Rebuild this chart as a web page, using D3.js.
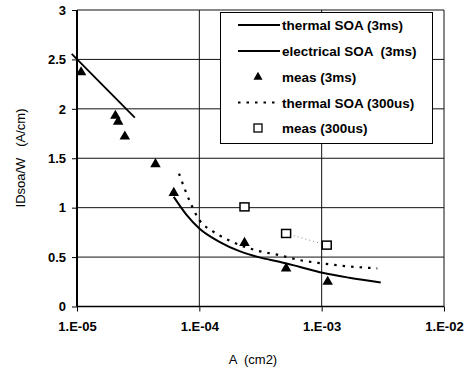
<!DOCTYPE html>
<html><head><meta charset="utf-8">
<script src="https://cdn.jsdelivr.net/npm/d3@7"></script>
<style>
html,body{margin:0;padding:0;background:#fff;}
svg{display:block;}
text{font-family:"Liberation Sans",Arial,sans-serif;fill:#000;}
</style></head>
<body>
<svg id="chart" width="468" height="369"></svg>
<script>
// ---- data ----
const xTicks = [1e-5, 1e-4, 1e-3, 1e-2];
const xTickLabels = ["1.E-05", "1.E-04", "1.E-03", "1.E-02"];
const yTicks = [0, 0.5, 1, 1.5, 2, 2.5, 3];
const yTickLabels = ["0", "0.5", "1", "1.5", "2", "2.5", "3"];

const thermal3msA = [6.18e-5, 7.83e-5, 1.0e-4, 1.46e-4, 2.13e-4, 3.10e-4, 4.51e-4, 6.56e-4, 1.016e-3, 1.68e-3, 3.04e-3];
const thermal3msV = [1.109, 0.93, 0.79, 0.655, 0.56, 0.497, 0.453, 0.402, 0.341, 0.291, 0.244];

const electrical3msA = [9.05e-6, 2.97e-5];
const electrical3msV = [2.556, 1.911];

const meas3msA = [1.08e-5, 2.06e-5, 2.17e-5, 2.46e-5, 4.38e-5, 6.18e-5, 2.34e-4, 5.12e-4, 1.12e-3];
const meas3msV = [2.37, 1.93, 1.87, 1.72, 1.44, 1.15, 0.644, 0.386, 0.25];

const thermal300usA = [6.82e-5, 7.59e-5, 8.45e-5, 1.0e-4, 1.29e-4, 1.71e-4, 3.0e-4, 4.51e-4, 6.56e-4, 1.016e-3, 1.48e-3, 2.85e-3];
const thermal300usV = [1.345, 1.19, 1.05, 0.875, 0.76, 0.675, 0.564, 0.52, 0.47, 0.436, 0.412, 0.386];

const meas300usA = [2.34e-4, 5.12e-4, 1.1e-3];
const meas300usV = [1.008, 0.739, 0.621];

const legendLabels = ["thermal SOA (3ms)", "electrical SOA  (3ms)", "meas (3ms)", "thermal SOA (300us)", "meas (300us)"];

// ---- layout ----
const L = 77, R = 444, T = 10, B = 306.5;
const svg = d3.select("#chart");
const x = d3.scaleLog().domain([1e-5, 1e-2]).range([L, R]);
const y = d3.scaleLinear().domain([0, 3]).range([B, T]);
const zip = (a, b) => a.map((d, i) => [d, b[i]]);

// gridlines
svg.append("g").selectAll("line.h").data(yTicks.slice(1)).join("line")
  .attr("x1", L).attr("x2", R).attr("y1", d => y(d)).attr("y2", d => y(d))
  .attr("stroke", "#111").attr("stroke-width", 1);
svg.append("g").selectAll("line.v").data(xTicks.slice(1)).join("line")
  .attr("x1", d => x(d)).attr("x2", d => x(d)).attr("y1", T).attr("y2", B)
  .attr("stroke", "#111").attr("stroke-width", 1);

// axes
const yAxis = d3.axisLeft(y).tickValues(yTicks).tickFormat((d, i) => yTickLabels[i]).tickSize(5).tickPadding(6);
const gy = svg.append("g").attr("transform", `translate(${L},0)`).call(yAxis);
gy.select(".domain").attr("stroke", "#000").attr("stroke-width", 2).attr("d", `M0,${T}V${B}`);
gy.selectAll(".tick line").attr("stroke", "#000");
gy.selectAll(".tick text").attr("font-size", 13).attr("font-weight", "bold").attr("font-family", "Liberation Sans, Arial, sans-serif").attr("fill", "#000");

const xAxis = d3.axisBottom(x).tickValues(xTicks).tickFormat((d, i) => xTickLabels[i]).tickSize(5).tickPadding(10);
const gx = svg.append("g").attr("transform", `translate(0,${B})`).call(xAxis);
gx.select(".domain").attr("stroke", "#000").attr("stroke-width", 1.5).attr("d", `M${L},0H${R}`);
gx.selectAll(".tick line").attr("stroke", "#000");
gx.selectAll(".tick text").attr("font-size", 13).attr("font-weight", "bold").attr("font-family", "Liberation Sans, Arial, sans-serif").attr("fill", "#000");

// axis titles
svg.append("text").attr("x", 253).attr("y", 364).attr("text-anchor", "middle")
  .attr("font-size", 13).attr("xml:space", "preserve").text("A  (cm2)");
svg.append("text").attr("transform", "translate(25,158) rotate(-90)").attr("text-anchor", "middle")
  .attr("font-size", 13).attr("xml:space", "preserve").text("IDsoa/W   (A/cm)");

const line = d3.line().x(d => x(d[0])).y(d => y(d[1])).curve(d3.curveMonotoneX);
const straight = d3.line().x(d => x(d[0])).y(d => y(d[1]));

// legend box
const lg = svg.append("g");
lg.append("rect").attr("x", 220.5).attr("y", 12.5).attr("width", 212).attr("height", 131)
  .attr("fill", "#fff").attr("stroke", "#000").attr("stroke-width", 1);

// series
svg.append("path").datum(zip(thermal3msA, thermal3msV)).attr("d", line)
  .attr("fill", "none").attr("stroke", "#000").attr("stroke-width", 2);
svg.append("path").datum(zip(electrical3msA, electrical3msV)).attr("d", straight)
  .attr("fill", "none").attr("stroke", "#000").attr("stroke-width", 1.8);
svg.append("path").datum(zip(thermal300usA, thermal300usV)).attr("d", line)
  .attr("fill", "none").attr("stroke", "#000").attr("stroke-width", 2.2).attr("stroke-dasharray", "2.5,6");
svg.append("path").datum(zip(meas300usA, meas300usV).slice(1)).attr("d", straight)
  .attr("fill", "none").attr("stroke", "#888").attr("stroke-width", 1).attr("stroke-dasharray", "1,3");

const tri = d3.symbol().type(d3.symbolTriangle).size(48);
svg.append("g").selectAll("path").data(zip(meas3msA, meas3msV)).join("path")
  .attr("d", tri).attr("transform", d => `translate(${x(d[0])},${y(d[1])})`).attr("fill", "#000");
svg.append("g").selectAll("rect").data(zip(meas300usA, meas300usV)).join("rect")
  .attr("x", d => x(d[0]) - 4.5).attr("y", d => y(d[1]) - 4).attr("width", 9).attr("height", 8)
  .attr("fill", "#fff").attr("stroke", "#000").attr("stroke-width", 1.5);

// legend entries
const rows = [25, 51, 77, 102.5, 128];
const lx1 = 238, lx2 = 280, tx = 282;
lg.append("line").attr("x1", lx1).attr("x2", lx2).attr("y1", rows[0]).attr("y2", rows[0]).attr("stroke", "#000").attr("stroke-width", 2);
lg.append("line").attr("x1", lx1).attr("x2", lx2).attr("y1", rows[1]).attr("y2", rows[1]).attr("stroke", "#000").attr("stroke-width", 1.8);
lg.append("path").attr("d", d3.symbol().type(d3.symbolTriangle).size(36)).attr("transform", `translate(258,${rows[2]})`).attr("fill", "#000");
lg.append("line").attr("x1", lx1).attr("x2", lx2).attr("y1", rows[3]).attr("y2", rows[3]).attr("stroke", "#000").attr("stroke-width", 2.2).attr("stroke-dasharray", "2.5,6");
lg.append("rect").attr("x", 254).attr("y", rows[4] - 4).attr("width", 8).attr("height", 8).attr("fill", "#fff").attr("stroke", "#000").attr("stroke-width", 1.3);
lg.selectAll("text").data(legendLabels).join("text")
  .attr("x", tx).attr("y", (d, i) => rows[i] + 5).attr("font-size", 13.5).attr("font-weight", "bold")
  .attr("xml:space", "preserve").text(d => d);
</script>
</body></html>
